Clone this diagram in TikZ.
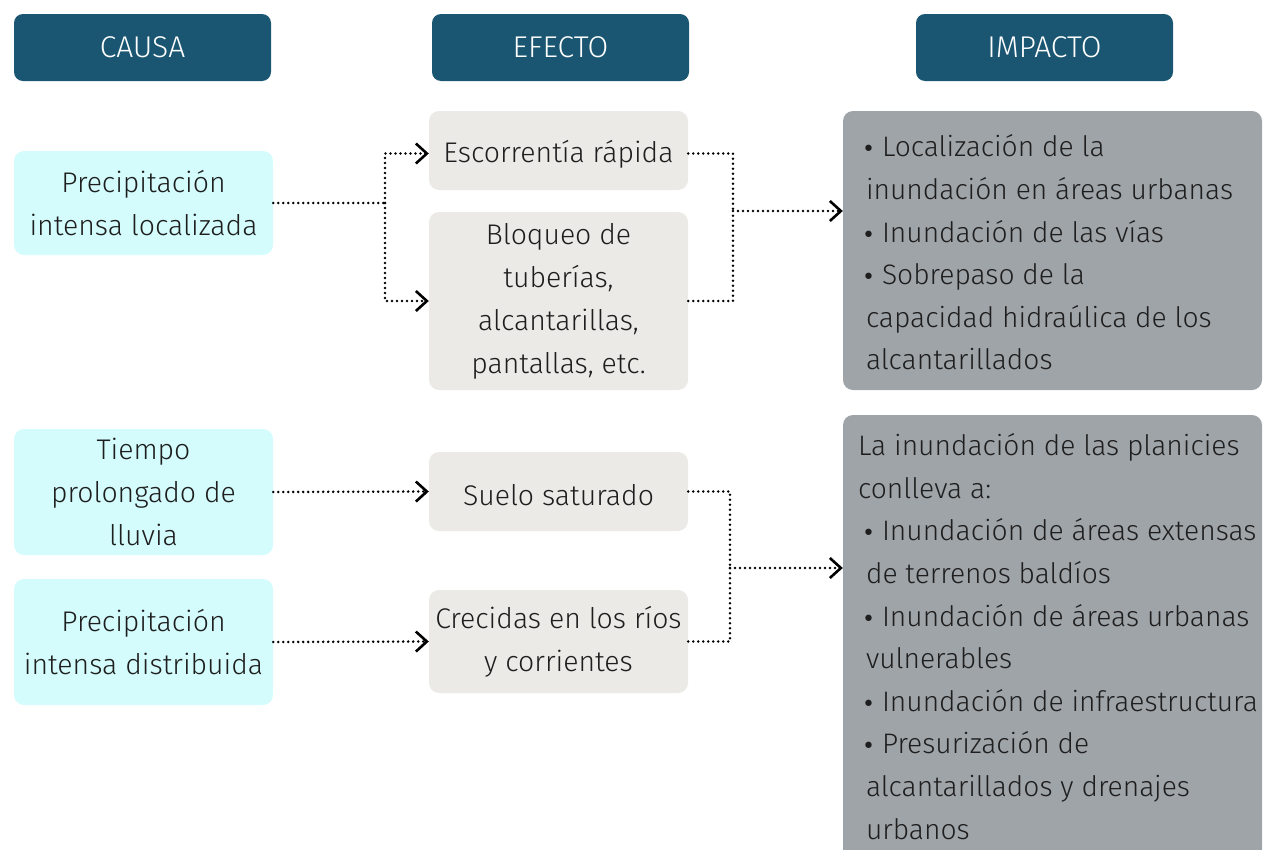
\documentclass[tikz,border=0pt]{standalone}
\usepackage{fontspec}
\setmainfont{Fira Sans Light}
\newfontfamily\bulfont{DejaVu Sans}
\usepackage{xcolor}
\usetikzlibrary{shapes,arrows.meta,positioning}

\definecolor{headblue}{HTML}{1A5671}
\definecolor{causecyan}{HTML}{D4FCFC}
\definecolor{effgray}{HTML}{EBEAE6}
\definecolor{impgray}{HTML}{9FA4A9}
\definecolor{inktext}{HTML}{1E1E1E}

\newcommand{\bul}{\makebox[16pt][l]{\hspace{-4pt}\bulfont\fontsize{22}{43}\selectfont •}}
\newcommand{\lowstrut}{\rule{0pt}{29pt}}

\begin{document}
\begin{tikzpicture}[x=1pt,y=-1pt,
    header/.style={fill=headblue, rounded corners=9pt, minimum width=257pt, minimum height=67pt, inner sep=0pt, text=white, font=\fontsize{30}{34}\selectfont},
    cause/.style={fill=causecyan, rounded corners=10pt, minimum width=259pt, inner sep=0pt, align=center, text=inktext, font=\fontsize{28.4}{43}\selectfont},
    effect/.style={fill=effgray, rounded corners=10pt, minimum width=259pt, inner sep=0pt, align=center, text=inktext, font=\fontsize{28.4}{43}\selectfont, execute at begin node=\lowstrut},
    impact/.style={fill=impgray, rounded corners=10pt, minimum width=419pt, inner sep=0pt},
    imptext/.style={anchor=west, inner sep=0pt, align=left, text=inktext, font=\fontsize{28.2}{42.6}\selectfont},
    link/.style={line width=2.8pt, dash pattern=on 0pt off 5pt, line cap=round},
    arrowed/.style={-{Straight Barb[length=11pt,width=20pt,line width=2.6pt]}}
]
    \useasboundingbox (0,0) rectangle (1263,849);

    % Headers
    \node[header] (hcausa) at (142.5,47.5) {CAUSA};
    \node[header] (hefecto) at (560.5,47.5) {EFECTO};
    \node[header] (himpacto) at (1044.5,47.5) {IMPACTO};

    % Causes
    \node[cause, minimum height=104pt] (cause1) at (143.5,203) {Precipitación\\intensa localizada};
    \node[cause, minimum height=126pt] (cause2) at (143.5,492) {Tiempo\\prolongado de\\lluvia};
    \node[cause, minimum height=126pt] (cause3) at (143.5,642) {Precipitación\\intensa distribuida};

    % Effects
    \node[effect, minimum height=79pt] (eff1) at (558.5,150.5) {Escorrentía rápida};
    \node[effect, minimum height=178pt] (eff2) at (558.5,301) {Bloqueo de\\tuberías,\\alcantarillas,\\pantallas, etc.};
    \node[effect, minimum height=79pt] (eff3) at (558.5,491.5) {Suelo saturado};
    \node[effect, minimum height=103pt] (eff4) at (558.5,641.5) {Crecidas en los ríos\\y corrientes};

    % Impacts
    \node[impact, minimum height=279pt] (imp1) at (1052.5,250.5) {};
    \node[imptext] (imp1txt) at ([xshift=23pt,yshift=-2pt]imp1.west)
        {\bul Localización de la\\inundación en áreas urbanas\\\bul Inundación de las vías\\\bul Sobrepaso de la\\capacidad hidraúlica de los\\alcantarillados};
    \node[impact, minimum height=445pt] (imp2) at (1052.5,637.5) {};
    \node[imptext] (imp2txt) at ([xshift=15pt,yshift=1pt]imp2.west)
        {La inundación de las planicies\\conlleva a:\\
         \hspace*{8pt}\bul Inundación de áreas extensas\\\hspace*{8pt}de terrenos baldíos\\
         \hspace*{8pt}\bul Inundación de áreas urbanas\\\hspace*{8pt}vulnerables\\
         \hspace*{8pt}\bul Inundación de infraestructura\\
         \hspace*{8pt}\bul Presurización de\\\hspace*{8pt}alcantarillados y drenajes\\\hspace*{8pt}urbanos};

    % Junctions
    \coordinate (j1) at (385,203);
    \coordinate (j2) at (733,211);
    \coordinate (j3) at (730,568);

    % Cause -> effect
    \draw[link] (cause1.east) -- (j1);
    \draw[link, arrowed] (j1) |- ([yshift=-3pt]eff1.west);
    \draw[link, arrowed] (j1) |- (eff2.west);
    \draw[link, arrowed] (cause2.east) -- (eff3.west);
    \draw[link, arrowed] (cause3.east) -- (eff4.west);

    % Effect -> impact
    \draw[link] ([yshift=-3pt]eff1.east) -| (j2);
    \draw[link] (eff2.east) -| (j2);
    \draw[link, arrowed] (j2) -- (j2 -| imp1.west);
    \draw[link] (eff3.east) -| (j3);
    \draw[link] (eff4.east) -| (j3);
    \draw[link, arrowed] (j3) -- (j3 -| imp2.west);
\end{tikzpicture}
\end{document}
